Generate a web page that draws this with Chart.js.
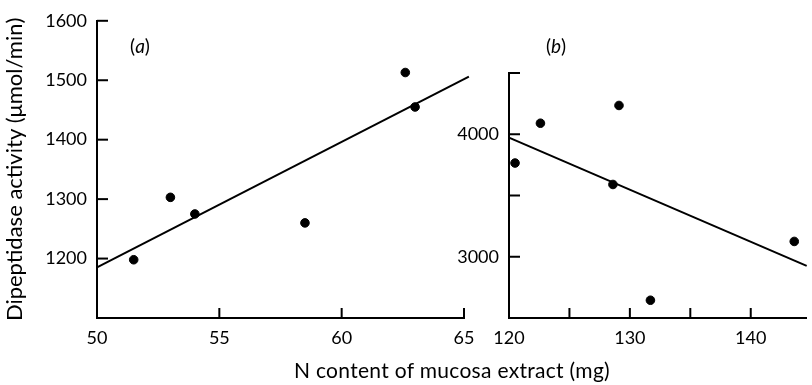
<!DOCTYPE html>
<html>
<head>
<meta charset="utf-8">
<script src="https://cdn.jsdelivr.net/npm/chart.js@4"></script>
<style>
  body { margin: 0; background: #fff; }
  #wrap { position: relative; width: 812px; height: 385px; overflow: hidden; font-family: Lato, sans-serif; color: #000; }
  canvas { position: absolute; top: 0; }
  #chartA { left: 0; }
  #chartB { left: 440px; }
  .tag { position: absolute; font-size: 19px; line-height: 20px; transform: translate(-50%, -50%); }
  #xtitle { position: absolute; left: 452px; top: 369px; transform: translate(-50%, -50%); font-size: 21px; letter-spacing: 0.3px; white-space: nowrap; }
</style>
</head>
<body>
<div id="wrap">
  <canvas id="chartA" width="490" height="385"></canvas>
  <canvas id="chartB" width="372" height="385"></canvas>
  <div class="tag" style="left:140px;top:46px">(<i>a</i>)</div>
  <div class="tag" style="left:556px;top:46px">(<i>b</i>)</div>
  <div id="xtitle">N content of mucosa extract (mg)</div>
</div>
<script>
// panel (a)
const aX = [51.5, 53.0, 54.0, 58.5, 62.6, 63.0];
const aY = [1198, 1303, 1275, 1260, 1513, 1455];
const aFitX = [50, 65.2];
const aFitY = [1185, 1506];
const aXTicks = [50, 55, 60, 65];
const aXLabels = ['50', '55', '60', '65'];
const aYTicks = [1200, 1300, 1400, 1500, 1600];
const aYLabels = ['1200', '1300', '1400', '1500', '1600'];

// panel (b)
const bX = [120.5, 122.6, 129.1, 128.6, 131.7, 143.6];
const bY = [3765, 4090, 4235, 3590, 2645, 3125];
const bFitX = [120, 144.63];
const bFitY = [3973, 2925];
const bXTicks = [120, 125, 130, 135, 140];
const bXLabels = ['120', '', '130', '', '140'];
const bYTicks = [3000, 3500, 4000, 4500];
const bYLabels = ['3000', '', '4000', ''];

const ink = '#000';
const tickFont = { family: 'Lato', size: 18 };

// tick marks drawn inside the plot, like the printed figure
const innerTicks = {
  id: 'innerTicks',
  afterDraw(chart) {
    const ctx = chart.ctx;
    const area = chart.chartArea;
    ctx.save();
    ctx.strokeStyle = ink;
    ctx.lineWidth = 2;
    const xs = chart.scales.x, ys = chart.scales.y;
    xs.ticks.forEach(t => {
      if (t.value === xs.min) return;
      const px = xs.getPixelForValue(t.value);
      ctx.beginPath();
      ctx.moveTo(px, area.bottom);
      ctx.lineTo(px, area.bottom - 10);
      ctx.stroke();
    });
    ys.ticks.forEach(t => {
      if (t.value === ys.min) return;
      const py = ys.getPixelForValue(t.value);
      ctx.beginPath();
      ctx.moveTo(area.left, py);
      ctx.lineTo(area.left + 11, py);
      ctx.stroke();
    });
    ctx.restore();
  }
};

function toPts(xs, ys) {
  return xs.map((x, i) => ({ x: x, y: ys[i] }));
}

function makeChart(id, cfg) {
  return new Chart(document.getElementById(id), {
    type: 'scatter',
    data: {
      datasets: [
        {
          data: toPts(cfg.px, cfg.py),
          backgroundColor: ink,
          borderColor: ink,
          pointRadius: 4.3,
          clip: false
        },
        {
          data: toPts(cfg.fx, cfg.fy),
          showLine: true,
          borderColor: ink,
          borderWidth: 2,
          pointRadius: 0,
          clip: false
        }
      ]
    },
    options: {
      responsive: false,
      animation: false,
      layout: { padding: cfg.padding },
      plugins: { legend: { display: false }, tooltip: { enabled: false } },
      scales: {
        x: {
          type: 'linear',
          min: cfg.xMin,
          max: cfg.xMax,
          afterBuildTicks: s => { s.ticks = cfg.xTicks.map(v => ({ value: v })); },
          afterFit: s => { s.height = 67; },
          grid: { display: false, drawTicks: false },
          border: { display: true, color: ink, width: 2 },
          ticks: {
            color: ink,
            font: tickFont,
            padding: 9,
            maxRotation: 0,
            autoSkip: false,
            callback: (v, i) => cfg.xLabels[i]
          }
        },
        y: {
          type: 'linear',
          min: cfg.yMin,
          max: cfg.yMax,
          afterBuildTicks: s => { s.ticks = cfg.yTicks.map(v => ({ value: v })); },
          afterFit: s => { s.width = cfg.yWidth; },
          grid: { display: false, drawTicks: false },
          border: { display: true, color: ink, width: 2 },
          ticks: {
            color: ink,
            font: tickFont,
            padding: 10,
            autoSkip: false,
            callback: (v, i) => cfg.yLabels[i]
          },
          title: cfg.yTitle
        }
      }
    },
    plugins: [innerTicks]
  });
}

makeChart('chartA', {
  px: aX, py: aY, fx: aFitX, fy: aFitY,
  xMin: 50, xMax: 65, yMin: 1100, yMax: 1600,
  xTicks: aXTicks, xLabels: aXLabels, yTicks: aYTicks, yLabels: aYLabels,
  yWidth: 97,
  padding: { left: 0, top: 13, right: 26, bottom: 0 },
  yTitle: {
    display: true,
    text: 'Dipeptidase activity (\u03bcmol/min)',
    color: ink,
    font: { family: 'Lato', size: 22 },
    padding: { top: 2, bottom: 2 }
  }
});

makeChart('chartB', {
  px: bX, py: bY, fx: bFitX, fy: bFitY,
  xMin: 120, xMax: 144.63, yMin: 2500, yMax: 4500,
  xTicks: bXTicks, xLabels: bXLabels, yTicks: bYTicks, yLabels: bYLabels,
  yWidth: 69,
  padding: { left: 0, top: 73, right: 0, bottom: 0 },
  yTitle: { display: false }
});
</script>
</body>
</html>
